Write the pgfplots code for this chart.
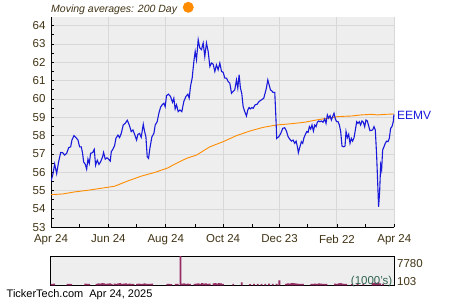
\documentclass[border=0pt]{standalone}
\usepackage{pgfplots}
\pgfplotsset{compat=1.18}
\usepackage{fontspec}
\setmainfont{Liberation Sans}
\definecolor{bgc}{RGB}{238,238,238}
\definecolor{gridc}{RGB}{216,216,216}
\definecolor{txtc}{RGB}{64,50,20}
\definecolor{pricec}{RGB}{25,25,220}
\definecolor{mac}{RGB}{255,140,0}
\definecolor{volc}{RGB}{150,45,100}
\definecolor{kc}{RGB}{50,100,80}
\begin{document}
\begin{tikzpicture}[x=1pt,y=1pt]
\path[use as bounding box] (0,0) rectangle (450,-300);
\begin{axis}[
  at={(51pt,-227.3pt)}, anchor=south west,
  scale only axis, width=343.3pt, height=210.3pt,
  xmin=0, xmax=365, ymin=53, ymax=64.47,
  axis background/.style={fill=bgc},
  axis x line*=bottom, axis y line*=left,
  axis line style={-, black, line width=1pt},
  xtick={0,61,122,183,243,304,365},
  xticklabels={Apr 24,Jun 24,Aug 24,Oct 24,Dec 23,Feb 22,Apr 24},
  minor xtick={30,91,153,214,273,334},
  ytick={53,54,...,64},
  minor ytick={53.5,54.5,...,63.5},
  tick align=inside,
  major tick length=3pt, minor tick length=3pt,
  tick style={black, line width=0.8pt},
  xmajorgrids, ymajorgrids,
  major grid style={gridc, line width=0.9pt},
  /pgf/number format/assume math mode=true,
  tick label style={font=\fontsize{11.5}{12}\selectfont, color=txtc},
  yticklabel style={xshift=-2pt},
  xticklabel style={yshift=-4pt},
  clip=true,
]
\addplot[mac, line width=0.9pt] coordinates {
(0,54.78)(12.7,54.82)(25.1,54.93)(39.3,55.02)(53.5,55.13)(67.6,55.24)(81.8,55.53)(95.9,55.79)(110.1,55.99)(124.3,56.24)(129.9,56.40)(144.1,56.76)(154.7,56.94)(168.9,57.39)(183.0,57.67)(197.2,58.0)(211.4,58.25)(225.5,58.45)(239.7,58.58)(255.6,58.65)(269.7,58.73)(283.9,58.87)(294.5,58.95)(305.1,59.04)(319.3,59.07)(329.9,59.13)(340.5,59.16)(347.6,59.13)(354.7,59.16)(364.6,59.18)
};
\addplot[pricec, line width=1.1pt] coordinates {
(0,55.53)(1.8,55.84)(3.9,56.45)(6.0,55.93)(8.1,56.57)(10.3,57.08)(12.4,57.07)(14.5,56.94)(16.6,57.03)(18.8,57.34)(20.9,57.39)(22.3,57.76)(24.4,58.00)(26.6,57.89)(28.7,57.76)(30.4,57.39)(32.2,57.39)(33.6,57.03)(34.7,56.57)(36.5,56.43)(37.9,56.17)(39.3,56.72)(40.7,56.48)(42.1,57.03)(44.3,57.08)(46.0,57.25)(47.4,56.39)(49.2,56.66)(51.0,56.43)(52.7,56.57)(54.9,56.85)(55.9,57.08)(57.7,56.72)(59.5,56.79)(61.2,56.72)(63.0,56.61)(64.1,57.12)(66.2,57.30)(67.6,57.45)(69.0,57.85)(71.2,58.03)(72.9,57.89)(74.7,58.12)(76.8,58.58)(78.9,58.67)(81.1,58.84)(83.2,58.58)(85.3,58.22)(87.1,58.31)(88.9,58.07)(91.0,57.76)(92.4,58.07)(94.2,58.12)(95.9,57.91)(98.1,58.62)(99.5,58.22)(100.9,57.94)(102.3,56.85)(103.7,56.76)(105.1,57.30)(107.3,57.94)(109.4,58.12)(110.8,58.58)(112.9,58.76)(114.7,59.22)(116.5,59.55)(118.2,59.68)(120.0,59.77)(121.4,59.58)(122.8,60.18)(124.9,60.26)(127.1,60.13)(129.2,59.82)(130.6,60.04)(132.0,59.46)(133.5,59.68)(135.2,59.31)(137.0,59.40)(139.1,59.31)(141.2,59.86)(143.4,60.13)(145.5,60.26)(146.9,60.04)(148.3,60.68)(150.1,61.14)(151.9,62.05)(153.3,62.59)(154.7,62.14)(156.5,63.23)(158.2,62.78)(160.0,62.69)(161.8,63.05)(163.5,62.32)(165.3,63.05)(167.1,62.59)(168.9,61.77)(170.6,61.96)(172.4,61.90)(174.2,61.50)(175.9,61.86)(177.7,61.59)(179.5,61.96)(181.3,61.50)(183.0,61.46)(184.8,61.14)(186.6,61.14)(188.3,60.95)(190.1,60.86)(191.9,60.31)(193.6,60.41)(195.4,60.50)(197.2,61.04)(198.6,60.59)(200.0,61.32)(201.4,60.59)(202.8,60.31)(204.3,59.58)(206.0,59.31)(207.8,59.07)(209.2,59.40)(210.6,59.53)(212.0,59.46)(213.5,59.53)(214.9,59.49)(217.0,59.68)(219.1,59.71)(221.2,59.86)(223.7,59.95)(226.2,60.04)(227.6,60.31)(229.0,60.59)(230.5,61.04)(231.9,60.77)(233.3,60.50)(234.7,60.44)(236.1,60.36)(237.9,60.36)(239.0,59.13)(240.0,57.85)(242.1,57.94)(244.3,58.12)(246.4,58.40)(248.5,58.43)(250.3,58.25)(252.1,57.94)(253.8,57.81)(255.6,57.70)(257.4,57.76)(259.1,57.58)(260.6,57.70)(262.0,57.39)(263.0,57.07)(264.4,57.34)(266.2,57.67)(267.6,57.58)(269.0,57.89)(270.5,58.07)(271.9,58.22)(273.3,58.18)(274.7,58.49)(276.1,58.36)(277.5,58.58)(279.0,58.25)(280.4,58.58)(281.8,58.49)(283.2,58.73)(284.6,58.80)(286.0,58.76)(287.5,58.80)(289.2,58.73)(291.0,58.91)(292.4,58.67)(293.8,59.13)(295.2,58.95)(296.7,59.09)(298.1,58.85)(299.5,59.04)(300.9,59.22)(302.3,58.91)(303.7,58.76)(305.2,58.76)(306.6,58.58)(308.0,58.22)(309.4,57.43)(311.2,57.39)(312.6,57.43)(313.7,58.22)(315.1,57.89)(316.5,58.07)(317.9,57.58)(319.3,57.85)(320.7,57.70)(322.2,57.89)(323.6,58.31)(325.0,58.76)(326.4,58.67)(327.8,58.76)(329.2,58.58)(330.6,58.80)(332.1,58.73)(333.5,58.49)(334.9,58.85)(336.3,58.80)(337.7,58.54)(339.1,58.27)(340.6,58.29)(342.0,58.31)(343.4,58.49)(344.8,58.31)(346.2,56.94)(347.3,55.48)(348.3,54.11)(349.4,54.93)(350.5,56.39)(351.5,56.12)(352.6,57.21)(354.0,57.39)(355.4,57.58)(356.8,57.70)(358.3,57.67)(359.7,57.85)(361.1,58.40)(362.5,58.49)(363.9,58.76)(364.6,59.16)
};
\end{axis}
\node[anchor=west, inner sep=0pt, text=pricec, font=\fontsize{12}{12}\selectfont] at (397,-115.5) {EEMV};
\node[anchor=base west, inner sep=0pt, text=txtc, font=\itshape\fontsize{10.5}{12}\selectfont] (t) at (51,-12) {Moving averages: 200 Day};
\fill[mac] ([xshift=11pt]t.east |- 0,-7.3) circle (5.5);
\begin{axis}[
  at={(50.5pt,-285.3pt)}, anchor=south west,
  scale only axis, width=343.8pt, height=29.3pt,
  xmin=0, xmax=365, ymin=103, ymax=7780,
  axis background/.style={fill=bgc},
  axis line style={black, line width=1pt},
  xtick=\empty, ytick=\empty,
  ybar, bar width=1.9pt,
  clip=true,
]
\addplot[fill=volc, draw=none, bar shift=0pt] coordinates {
(0,500)(2,450)(4,550)
(18,450)(20,500)(22,400)
(37,550)(39,500)(41,450)
(49,500)(51,600)(53,550)(55,650)(57,600)(59,500)(61,550)(63,600)(65,500)
(68,550)(70,500)(72,600)(74,650)(76,500)(78,550)(80,600)(82,500)(84,550)(86,500)(88,450)
(92,500)(94,550)(96,450)(98,500)(100,600)(102,500)(104,450)(106,500)(108,550)
(124,450)(126,500)(128,400)
(133,500)(135,450)
(138,7780)
(140,550)(142,600)(144,500)(146,550)(148,500)
(153,500)(155,550)(157,600)(159,500)(161,650)(163,550)(165,600)(167,500)(169,550)
(173,600)(175,650)(177,550)(179,700)(181,600)(183,500)
(194,500)
(203,900)
(212,400)(216,450)(220,500)(224,450)(228,500)(232,550)(236,500)(240,450)
(243,1400)
(250,500)(252,600)(254,550)(256,700)(258,650)(260,600)(262,550)(264,500)(266,450)(268,500)
(277,500)(279,450)(281,550)(283,500)(285,600)(287,550)(289,500)(291,450)(293,500)
(302,550)(304,500)(306,600)(308,650)(310,550)(312,500)(314,450)
(320,400)(326,450)(332,400)
(342,700)(344,800)(346,750)(348,850)(350,600)
(353,450)
};
\end{axis}
\node[anchor=base east, inner sep=0pt, text=kc, font=\fontsize{11.5}{12}\selectfont] at (392.5,-284) {(1000's)};
\node[anchor=west, inner sep=0pt, text=txtc, font=\fontsize{11.5}{12}\selectfont] at (397,-263.3) {7780};
\node[anchor=west, inner sep=0pt, text=txtc, font=\fontsize{11.5}{12}\selectfont] at (397,-281.7) {103};
\node[anchor=west, inner sep=0pt, text=black, font=\fontsize{11}{12}\selectfont] at (6.5,-294.3) {TickerTech.com\ \ Apr 24, 2025};
\end{tikzpicture}
\end{document}
